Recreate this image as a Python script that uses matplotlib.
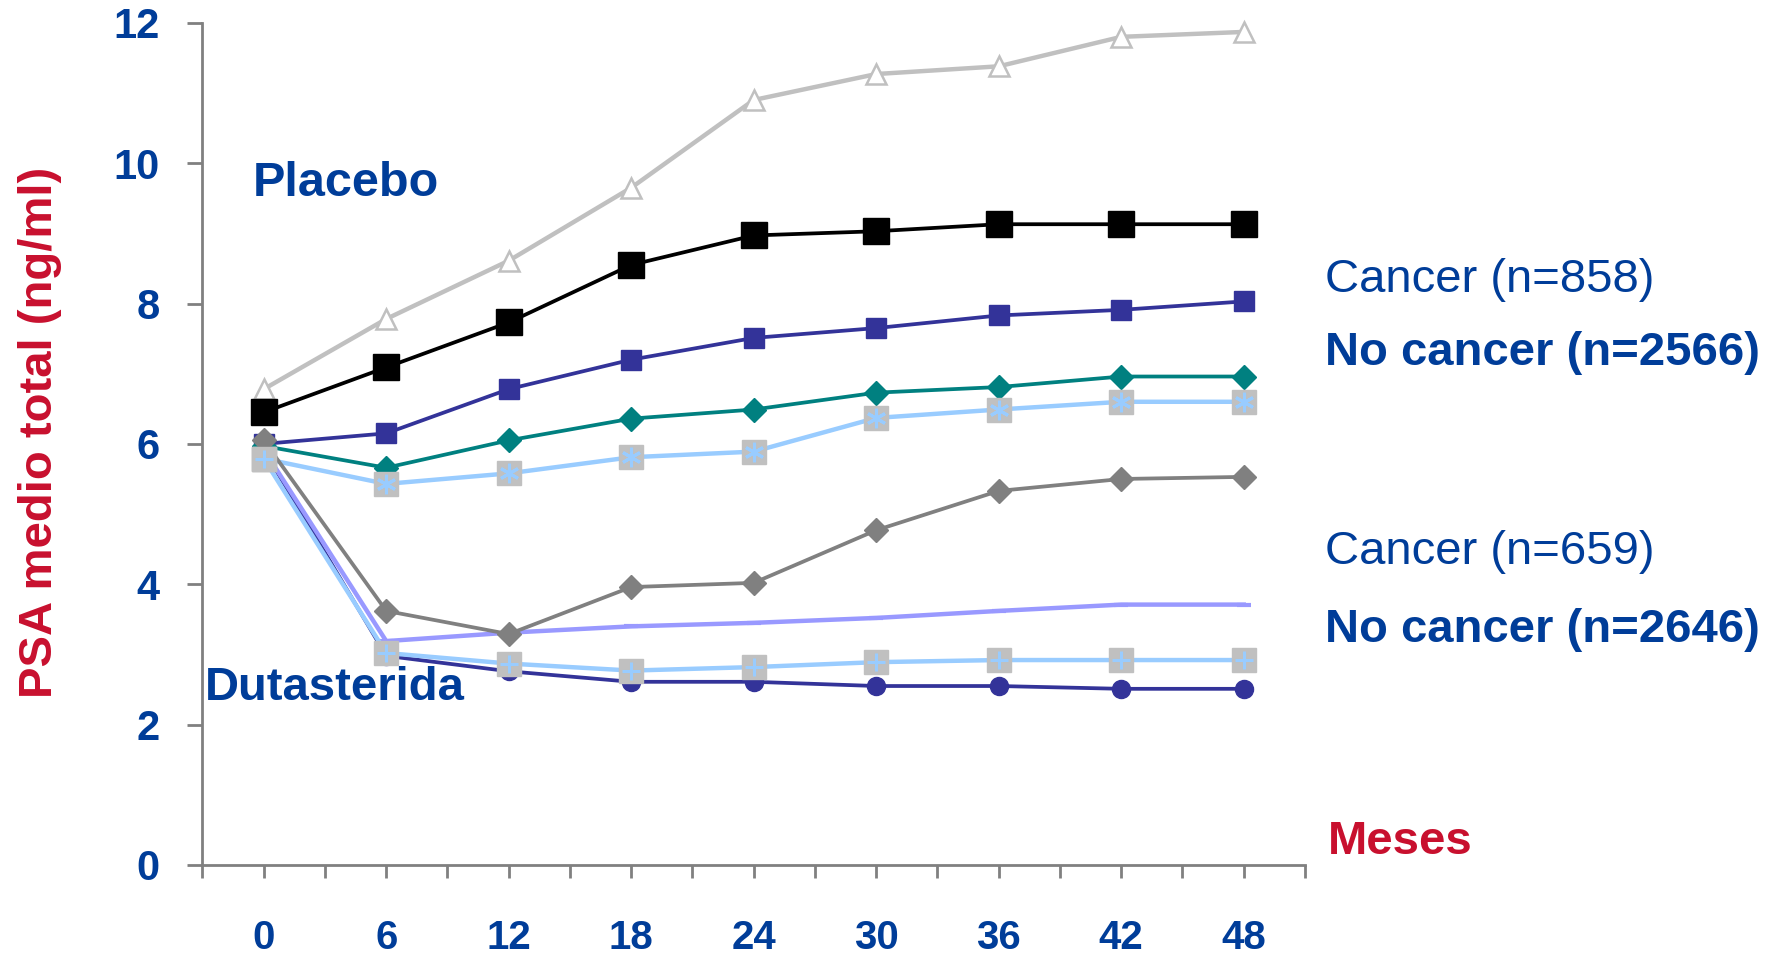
import matplotlib
matplotlib.use("Agg")
import matplotlib.pyplot as plt

# Months of follow-up
months = [0, 6, 12, 18, 24, 30, 36, 42, 48]

# Mean total PSA (ng/ml) per group
placebo_cancer_tri = [6.78, 7.78, 8.61, 9.65, 10.90, 11.27, 11.38, 11.80, 11.87]
placebo_black_sq = [6.45, 7.09, 7.73, 8.55, 8.97, 9.03, 9.13, 9.13, 9.13]
placebo_blue_sq = [6.00, 6.15, 6.78, 7.20, 7.51, 7.65, 7.83, 7.91, 8.03]
placebo_teal_dia = [5.97, 5.66, 6.05, 6.36, 6.49, 6.73, 6.81, 6.96, 6.96]
placebo_gray_ast = [5.79, 5.43, 5.58, 5.81, 5.89, 6.37, 6.49, 6.60, 6.60]
duta_gray_dia = [6.05, 3.62, 3.29, 3.96, 4.02, 4.77, 5.33, 5.50, 5.53]
duta_lavender = [5.92, 3.19, 3.31, 3.40, 3.45, 3.52, 3.62, 3.71, 3.71]
duta_gray_plus = [5.79, 3.02, 2.87, 2.77, 2.82, 2.89, 2.92, 2.92, 2.92]
duta_blue_circ = [5.92, 2.98, 2.76, 2.61, 2.61, 2.55, 2.55, 2.51, 2.51]

y_ticks = [0, 2, 4, 6, 8, 10, 12]
x_tick_positions = list(range(-3, 52, 3))
x_tick_labels = [str(m) if (m >= 0 and m % 6 == 0) else "" for m in x_tick_positions]

BLUE = "#003d99"
RED = "#c8102e"
FONT = "Liberation Sans"

fig = plt.figure(figsize=(17.84, 9.58), dpi=100)
ax = fig.add_axes([0.1135, 0.0971, 0.618, 0.8791])

lw = 2.7

# Dutasteride groups (drawn first so placebo start points sit above)
ax.plot(months, duta_blue_circ, color="#333399", lw=lw, marker="o", ms=13,
        mec="#333399", mfc="#333399", clip_on=False, zorder=3)
ax.plot(months, duta_lavender, color="#9999ff", lw=lw + 0.5, marker="_", ms=10,
        mew=3, mec="#9999ff", clip_on=False, zorder=3)
ax.plot(months, duta_gray_plus, color="#99ccff", lw=lw + 0.5, clip_on=False, zorder=3)
ax.plot(months, duta_gray_plus, ls="none", marker="s", ms=17, mfc="#c0c0c0",
        mec="#c0c0c0", clip_on=False, zorder=4)
ax.plot(months, duta_gray_plus, ls="none", marker="+", ms=13, mew=2.2,
        mec="#99ccff", clip_on=False, zorder=5)

# Placebo groups
ax.plot(months, placebo_cancer_tri, color="#c0c0c0", lw=lw + 0.5, marker="^",
        ms=15, mfc="white", mec="#c0c0c0", mew=1.8, clip_on=False, zorder=3)
ax.plot(months, placebo_black_sq, color="black", lw=lw, marker="s", ms=19,
        mfc="black", mec="black", clip_on=False, zorder=3)
ax.plot(months, placebo_blue_sq, color="#333399", lw=lw, marker="s", ms=14,
        mfc="#333399", mec="#333399", clip_on=False, zorder=3)
ax.plot(months, placebo_teal_dia, color="#008080", lw=lw, marker="D", ms=12,
        mfc="#008080", mec="#008080", clip_on=False, zorder=3)
ax.plot(months, placebo_gray_ast, color="#99ccff", lw=lw + 0.5, clip_on=False, zorder=3)
ax.plot(months, placebo_gray_ast, ls="none", marker="s", ms=17, mfc="#c0c0c0",
        mec="#c0c0c0", clip_on=False, zorder=4)
ax.plot(months, placebo_gray_ast, ls="none", marker=(6, 2, 0), ms=14, mew=2.2,
        mec="#99ccff", clip_on=False, zorder=5)

ax.plot(months, duta_gray_dia, color="#808080", lw=lw, marker="D", ms=12,
        mfc="#808080", mec="#808080", clip_on=False, zorder=6)
# re-draw the start point of the plus-square series on top
ax.plot(months[:1], duta_gray_plus[:1], ls="none", marker="s", ms=17, mfc="#c0c0c0",
        mec="#c0c0c0", clip_on=False, zorder=7)
ax.plot(months[:1], duta_gray_plus[:1], ls="none", marker="+", ms=13, mew=2.2,
        mec="#99ccff", clip_on=False, zorder=8)

ax.set_xlim(-3, 51)
ax.set_ylim(0, 12)

for side in ("top", "right"):
    ax.spines[side].set_visible(False)
for side in ("left", "bottom"):
    ax.spines[side].set_color("#808080")
    ax.spines[side].set_linewidth(2)

ax.set_yticks(y_ticks)
ax.set_yticklabels([str(v) for v in y_ticks])
ax.set_xticks(x_tick_positions)
ax.set_xticklabels(x_tick_labels)

ax.tick_params(axis="y", direction="out", length=11, width=2, color="#808080",
               pad=20, labelcolor=BLUE)
ax.tick_params(axis="x", direction="out", length=9, width=2, color="#808080",
               pad=30, labelcolor=BLUE)
for lab in ax.get_yticklabels():
    lab.set_fontfamily(FONT)
    lab.set_fontweight("bold")
    lab.set_fontsize(30)
for lab in ax.get_xticklabels():
    lab.set_fontfamily(FONT)
    lab.set_fontweight("bold")
    lab.set_fontsize(29)

W, H = 1784.0, 958.0


def put(x_px, y_px, s, **kw):
    fig.text(x_px / W, 1 - y_px / H, s, fontfamily=FONT, **kw)


put(40, 432, "PSA medio total (ng/ml)", rotation=90, ha="center", va="center",
    color=RED, fontsize=34, fontweight="bold")
put(253, 183, "Placebo", ha="left", va="center", color=BLUE, fontsize=35,
    fontweight="bold")
put(205, 688, "Dutasterida", ha="left", va="center", color=BLUE, fontsize=34,
    fontweight="bold")
put(1325, 280, "Cancer (n=858)", ha="left", va="center", color=BLUE, fontsize=34)
put(1325, 353, "No cancer (n=2566)", ha="left", va="center", color=BLUE,
    fontsize=34, fontweight="bold")
put(1325, 552, "Cancer (n=659)", ha="left", va="center", color=BLUE, fontsize=34)
put(1325, 630, "No cancer (n=2646)", ha="left", va="center", color=BLUE,
    fontsize=34, fontweight="bold")
put(1328, 842, "Meses", ha="left", va="center", color=RED, fontsize=34,
    fontweight="bold")

fig.savefig("out.png", dpi=100, facecolor="white")
